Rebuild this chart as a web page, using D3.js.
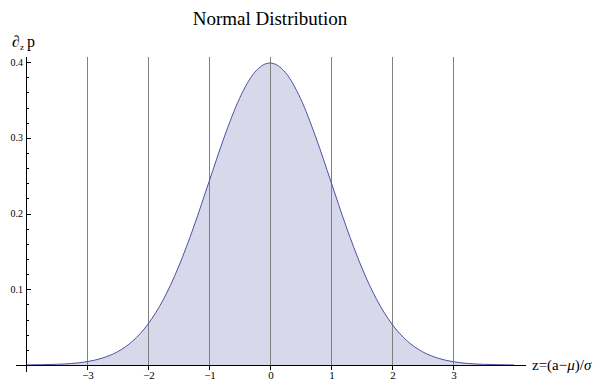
<!DOCTYPE html>
<html><head><meta charset="utf-8">
<script src="https://cdn.jsdelivr.net/npm/d3@7"></script>
<style>body{margin:0;background:#fff}svg{display:block}</style>
</head><body>
<script>
// Data (standard normal density)
const zValues = [-4,-3.75,-3.5,-3.25,-3,-2.75,-2.5,-2.25,-2,-1.75,-1.5,-1.25,-1,-0.75,-0.5,-0.25,0,0.25,0.5,0.75,1,1.25,1.5,1.75,2,2.25,2.5,2.75,3,3.25,3.5,3.75,4];
const density = [0.0001,0.0004,0.0009,0.0020,0.0044,0.0091,0.0175,0.0317,0.0540,0.0863,0.1295,0.1826,0.2420,0.3011,0.3521,0.3867,0.3989,0.3867,0.3521,0.3011,0.2420,0.1826,0.1295,0.0863,0.0540,0.0317,0.0175,0.0091,0.0044,0.0020,0.0009,0.0004,0.0001];
const xTicks = [-3,-2,-1,0,1,2,3];
const xTickLabels = ["\u22123","\u22122","\u22121","0","1","2","3"];
const gridX = [-3,-2,-1,0,1,2,3];
const yTicks = [0.1,0.2,0.3,0.4];
const yMinorTicks = [0.02,0.04,0.06,0.08,0.12,0.14,0.16,0.18,0.22,0.24,0.26,0.28,0.32,0.34,0.36,0.38];
const title = "Normal Distribution";

const W = 614, H = 391;
const svg = d3.select("body").append("svg").attr("width", W).attr("height", H);
const x = d3.scaleLinear().domain([-4, 4]).range([26, 514]);
const y = d3.scaleLinear().domain([0, 0.4]).range([365, 62.2]);
const pts = zValues.map((z, i) => [z, density[i]]);

// filled area
svg.append("path").datum(pts)
  .attr("d", d3.area().x(d => x(d[0])).y0(y(0)).y1(d => y(d[1])).curve(d3.curveMonotoneX))
  .attr("fill", "rgb(216,216,235)");

// grid lines
svg.append("g").selectAll("line").data(gridX).join("line")
  .attr("x1", d => x(d) + 0.5).attr("x2", d => x(d) + 0.5)
  .attr("y1", 57).attr("y2", y(0))
  .attr("stroke", "#808080").attr("stroke-width", 1);

// curve
svg.append("path").datum(pts)
  .attr("d", d3.line().x(d => x(d[0])).y(d => y(d[1])).curve(d3.curveMonotoneX))
  .attr("fill", "none").attr("stroke", "rgb(80,80,165)").attr("stroke-width", 1);

// x axis
svg.append("line").attr("x1", 16).attr("x2", 526).attr("y1", y(0) + 0.5).attr("y2", y(0) + 0.5)
  .attr("stroke", "#000").attr("stroke-width", 1);
svg.append("g").selectAll("line").data(xTicks).join("line")
  .attr("x1", d => x(d) + 0.5).attr("x2", d => x(d) + 0.5)
  .attr("y1", y(0)).attr("y2", y(0) + 5).attr("stroke", "#000");
svg.append("g").selectAll("text").data(xTicks).join("text")
  .attr("x", d => x(d) + 1).attr("y", 379)
  .attr("text-anchor", "middle")
  .attr("font-family", "'Liberation Serif','Times New Roman',serif").attr("font-size", 11)
  .text((d, i) => xTickLabels[i]);

// y axis
svg.append("line").attr("x1", x(-4) + 0.5).attr("x2", x(-4) + 0.5).attr("y1", 57).attr("y2", 372)
  .attr("stroke", "#000").attr("stroke-width", 1);
svg.append("g").selectAll("line").data(yTicks).join("line")
  .attr("x1", x(-4)).attr("x2", x(-4) + 5)
  .attr("y1", d => Math.round(y(d)) + 0.5).attr("y2", d => Math.round(y(d)) + 0.5).attr("stroke", "#000");
svg.append("g").selectAll("line").data(yMinorTicks).join("line")
  .attr("x1", x(-4)).attr("x2", x(-4) + 3)
  .attr("y1", d => Math.round(y(d)) + 0.5).attr("y2", d => Math.round(y(d)) + 0.5).attr("stroke", "#000");
svg.append("g").selectAll("text").data(yTicks).join("text")
  .attr("x", x(-4) - 3).attr("y", d => y(d) + 3.5)
  .attr("text-anchor", "end")
  .attr("font-family", "'Liberation Serif','Times New Roman',serif").attr("font-size", 10)
  .text(d => d.toFixed(1));

// title
svg.append("text").attr("x", 270).attr("y", 25).attr("text-anchor", "middle")
  .attr("font-family", "'Liberation Serif','Times New Roman',serif").attr("font-size", 19)
  .text(title);

// y label
const yl = svg.append("text").attr("x", 12).attr("y", 47)
  .attr("font-family", "'Liberation Serif','Times New Roman',serif").attr("font-size", 16);
yl.append("tspan").attr("font-style", "italic").text("\u2202");
yl.append("tspan").attr("font-size", 9).attr("dy", 3).text("z");
yl.append("tspan").attr("dy", -3).attr("dx", 3).text("p");

// x label
const xl = svg.append("text").attr("x", 532).attr("y", 370)
  .attr("font-family", "'Liberation Serif','Times New Roman',serif").attr("font-size", 15);
xl.append("tspan").text("z=(a\u2212");
xl.append("tspan").attr("font-style", "italic").text("\u03bc");
xl.append("tspan").text(")/");
xl.append("tspan").attr("font-style", "italic").text("\u03c3");
</script>
</body></html>
